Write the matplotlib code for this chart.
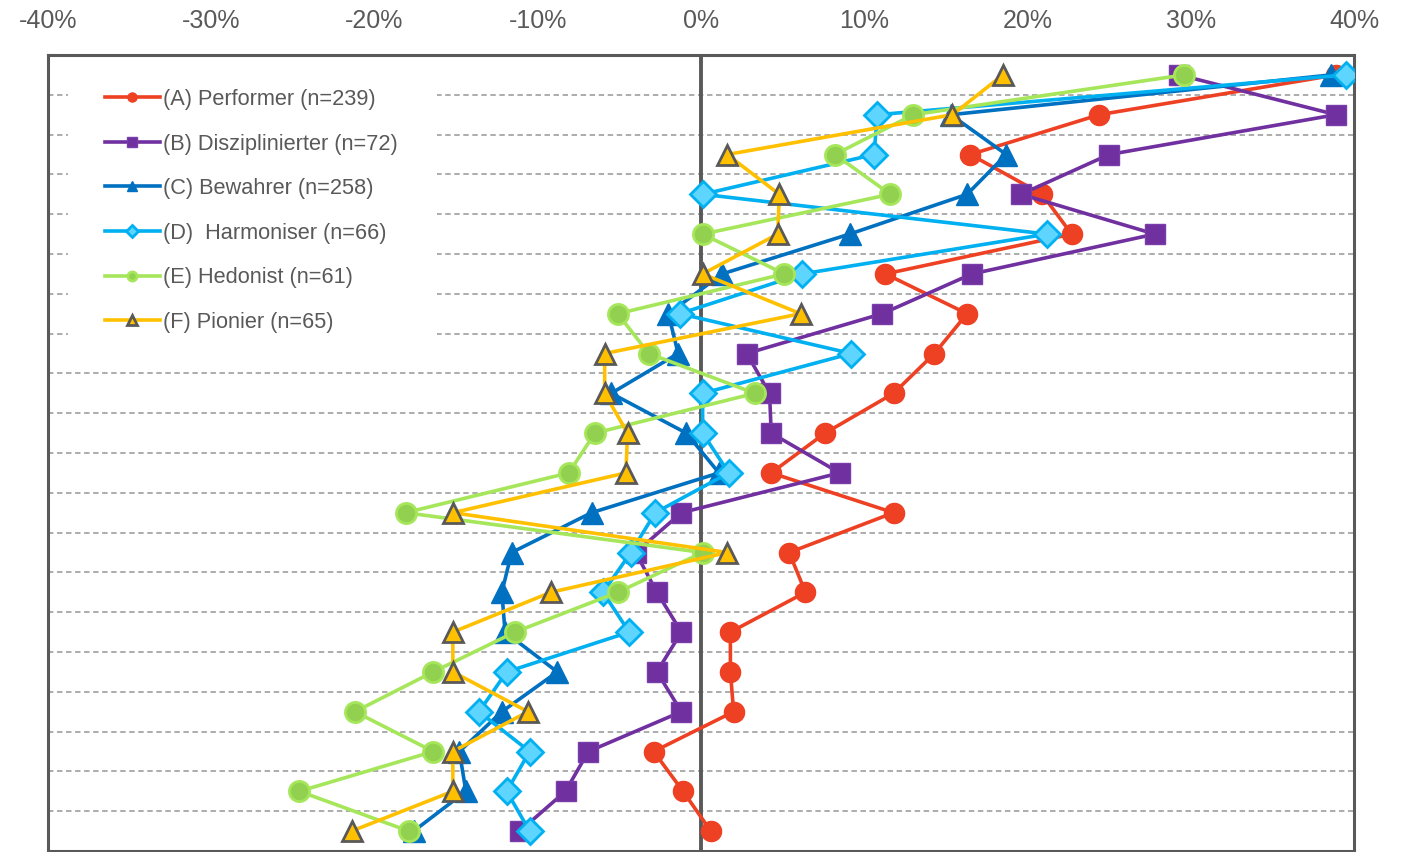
import numpy as np
import matplotlib
matplotlib.use("Agg")
import matplotlib.pyplot as plt
from matplotlib.ticker import FuncFormatter
from matplotlib.patches import Rectangle

plt.rcParams['font.family'] = ['Liberation Sans', 'DejaVu Sans']

# 20 Aussagen (Zeilen von oben nach unten), Abweichung in %
filas = np.arange(20)

performer = [38.9, 24.4, 16.5, 20.9, 22.7, 11.3, 16.3, 14.3, 11.8, 7.6,
             4.3, 11.8, 5.4, 6.4, 1.8, 1.8, 2.0, -2.9, -1.1, 0.6]
disziplinierter = [29.3, 38.9, 25.0, 19.6, 27.8, 16.6, 11.1, 2.8, 4.2, 4.3,
                   8.5, -1.2, -4.0, -2.7, -1.2, -2.7, -1.2, -6.9, -8.3, -11.1]
bewahrer = [38.6, 15.3, 18.7, 16.3, 9.1, 1.3, -2.0, -1.4, -5.5, -0.9,
            1.1, -6.7, -11.6, -12.2, -12.0, -8.8, -12.2, -14.8, -14.4, -17.6]
harmoniser = [39.5, 10.8, 10.6, 0.1, 21.2, 6.2, -1.3, 9.2, 0.1, 0.1,
              1.7, -2.8, -4.3, -6.0, -4.4, -11.9, -13.6, -10.5, -11.9, -10.5]
hedonist = [29.6, 13.0, 8.2, 11.6, 0.1, 5.1, -5.1, -3.2, 3.3, -6.5,
            -8.1, -18.1, 0.1, -5.1, -11.4, -16.4, -21.2, -16.4, -24.6, -17.9]
pionier = [18.5, 15.4, 1.6, 4.8, 4.7, 0.1, 6.1, -5.9, -5.9, -4.5,
           -4.6, -15.2, 1.6, -9.2, -15.2, -15.2, -10.6, -15.2, -15.2, -21.4]

etiquetas = ['(A) Performer (n=239)', '(B) Disziplinierter (n=72)',
             '(C) Bewahrer (n=258)', '(D)  Harmoniser (n=66)',
             '(E) Hedonist (n=61)', '(F) Pionier (n=65)']

gris = '#595959'

fig = plt.figure(figsize=(14.09, 8.52), dpi=100)
ax = fig.add_axes([48/1409, 1/852, (1354-48)/1409, (851-55)/852])

estilos = [
    dict(color='#EE4023', marker='o', markersize=14.5, markerfacecolor='#EE4023', markeredgecolor='#EE4023', markeredgewidth=1),
    dict(color='#7030A0', marker='s', markersize=15, markerfacecolor='#7030A0', markeredgecolor='#7A3DAA', markeredgewidth=1),
    dict(color='#0070C0', marker='^', markersize=16, markerfacecolor='#0070C0', markeredgecolor='#0070C0', markeredgewidth=1),
    dict(color='#00B0F0', marker='D', markersize=13, markerfacecolor='#5DD5FF', markeredgecolor='#00B0F0', markeredgewidth=2),
    dict(color='#A6E65A', marker='o', markersize=14.5, markerfacecolor='#92D050', markeredgecolor='#A6E65A', markeredgewidth=2),
    dict(color='#FFC000', marker='^', markersize=15, markerfacecolor='#FFC000', markeredgecolor=gris, markeredgewidth=2),
]

series = [performer, disziplinierter, bewahrer, harmoniser, hedonist, pionier]
for i, (vals, est, lab) in enumerate(zip(series, estilos, etiquetas)):
    ax.plot(vals, filas, linewidth=2.6, label=lab, zorder=3 + i, **est)

ax.set_xlim(-40, 40)
ax.set_ylim(19.5, -0.5)

# lineas de separacion entre filas
for y in np.arange(0.5, 19.5, 1):
    ax.axhline(y, color='#A6A6A6', linestyle=(0, (3, 2)), linewidth=1.3, zorder=1)

ax.axvline(0, color=gris, linewidth=2.8, zorder=2)

# fondo blanco de la leyenda (tapa las lineas)
ax.add_patch(Rectangle(((68-48)/1306, (851-345)/796), (437-68)/1306, (345-55)/796,
                       transform=ax.transAxes, facecolor='white', edgecolor='none', zorder=1.5))

ax.set_xticks(np.arange(-40, 41, 10))
ax.xaxis.set_major_formatter(FuncFormatter(lambda v, p: '%d%%' % v))
ax.xaxis.tick_top()
ax.tick_params(axis='x', length=0, pad=16, labelsize=18, labelcolor=gris)
ax.set_yticks([])

for s in ax.spines.values():
    s.set_color(gris)
    s.set_linewidth(2.2)

leg = ax.legend(loc='upper left', bbox_to_anchor=((105-48)/1306, (851-89)/796), frameon=False,
                fontsize=15.7, markerscale=0.45, handlelength=2.5, handletextpad=0.15,
                labelspacing=1.08, borderpad=0, borderaxespad=0)
leg.set_zorder(20)
for t in leg.get_texts():
    t.set_color(gris)

fig.savefig('out.png', dpi=100)
